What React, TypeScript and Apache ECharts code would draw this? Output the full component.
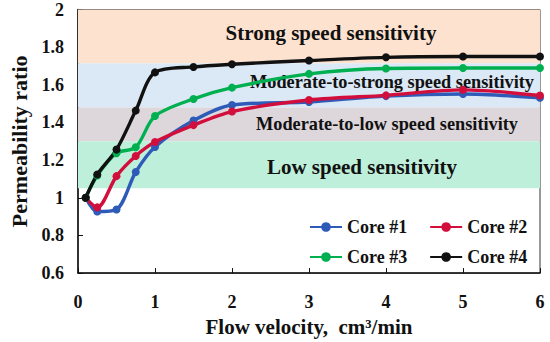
import React, { useEffect, useRef } from "react";
import * as echarts from "echarts";

const velocities = [0.1, 0.25, 0.5, 0.75, 1, 1.5, 2, 3, 4, 5, 6];
const core1 = [1.0, 0.927, 0.938, 1.137, 1.27, 1.41, 1.493, 1.509, 1.54, 1.551, 1.531];
const core2 = [1.0, 0.949, 1.115, 1.222, 1.296, 1.386, 1.458, 1.519, 1.544, 1.573, 1.543];
const core3 = [1.0, 1.118, 1.237, 1.268, 1.434, 1.525, 1.585, 1.658, 1.687, 1.689, 1.689];
const core4 = [1.0, 1.124, 1.256, 1.463, 1.666, 1.695, 1.709, 1.729, 1.746, 1.75, 1.75];

const seriesNames = ["Core #1", "Core #2", "Core #3", "Core #4"];
const seriesColors = ["#2E5BB8", "#D20F3C", "#00B050", "#111111"];

const bandNames = [
  "Strong speed sensitivity",
  "Moderate-to-strong speed sensitivity",
  "Moderate-to-low speed sensitivity",
  "Low speed sensitivity",
];
const bandLow = [1.714, 1.48, 1.3, 1.05];
const bandHigh = [2, 1.714, 1.48, 1.3];
const bandColors = ["#FDE2CF", "#DBE8F5", "#DDD6DB", "#BEEFDA"];
const bandLabelOffsets = [[22, -3], [83, -3], [78, 0], [53, 2]];
const bandFontSizes = [21, 18.3, 18.3, 21];

const FONT = '"Liberation Serif", "Times New Roman", serif';

export default function App() {
  const ref = useRef<HTMLDivElement>(null);
  useEffect(() => {
    if (!ref.current) return;
    const chart = echarts.init(ref.current, undefined, { renderer: "svg" });
    const allData = [core1, core2, core3, core4];
    const lineSeries = allData.map((vals, i) => ({
      name: seriesNames[i],
      type: "line",
      data: velocities.map((x, j) => [x, vals[j]]),
      smooth: 0.3,
      symbol: "circle",
      symbolSize: 8,
      lineStyle: { width: 3.4, color: seriesColors[i] },
      itemStyle: { color: seriesColors[i] },
      z: 3,
    }));
    const bandSeries = {
      name: "bands",
      type: "line",
      data: [],
      silent: true,
      z: 1,
      markArea: {
        silent: true,
        data: bandNames.map((name, i) => [
          {
            name,
            xAxis: 0,
            yAxis: bandHigh[i],
            itemStyle: { color: bandColors[i], opacity: 1 },
            label: {
              show: true,
              position: "inside",
              offset: bandLabelOffsets[i],
              color: "#111",
              fontFamily: FONT,
              fontWeight: "bold",
              fontSize: bandFontSizes[i],
            },
          },
          { xAxis: 6, yAxis: bandLow[i] },
        ]),
      },
    };
    const legendCommon = {
      orient: "horizontal",
      padding: 0,
      itemWidth: 32,
      itemHeight: 12,
      itemGap: 22,
      textStyle: { fontFamily: FONT, fontWeight: "bold", fontSize: 18, color: "#111" },
    };
    chart.setOption({
      animation: false,
      backgroundColor: "#fff",
      grid: {
        left: 78,
        right: 10,
        top: 9.5,
        bottom: 57,
        show: true,
        borderColor: "#333",
        borderWidth: 1,
        backgroundColor: "transparent",
      },
      legend: [
        { ...legendCommon, data: ["Core #1", "Core #2"], left: 309, top: 218 },
        { ...legendCommon, data: ["Core #3", "Core #4"], left: 309, top: 248 },
      ],
      xAxis: {
        type: "value",
        min: 0,
        max: 6,
        interval: 1,
        name: "Flow velocity,\u00a0\u00a0cm³/min",
        nameLocation: "middle",
        nameGap: 33,
        nameTextStyle: { fontFamily: FONT, fontWeight: "bold", fontSize: 21, color: "#111" },
        axisLine: { lineStyle: { color: "#111", width: 1.5 } },
        axisTick: { inside: true, length: 5, lineStyle: { color: "#111" } },
        axisLabel: { fontFamily: FONT, fontWeight: "bold", fontSize: 18, color: "#111", margin: 20 },
        splitLine: { show: false },
      },
      yAxis: {
        type: "value",
        min: 0.6,
        max: 2,
        interval: 0.2,
        name: "Permeability ratio",
        nameLocation: "middle",
        nameGap: 36,
        nameTextStyle: { fontFamily: FONT, fontWeight: "bold", fontSize: 22, color: "#111" },
        axisLine: { show: true, lineStyle: { color: "#111", width: 1.5 } },
        axisTick: { show: true, inside: true, length: 5, lineStyle: { color: "#111" } },
        axisLabel: {
          fontFamily: FONT,
          fontWeight: "bold",
          fontSize: 18,
          color: "#111",
          margin: 14,
          formatter: (v: number) => String(Math.round(v * 10) / 10),
        },
        splitLine: { show: false },
      },
      series: [bandSeries, ...lineSeries],
    });
    return () => chart.dispose();
  }, []);
  return <div ref={ref} style={{ width: 550, height: 342, position: "absolute", left: 0, top: 0 }} />;
}
